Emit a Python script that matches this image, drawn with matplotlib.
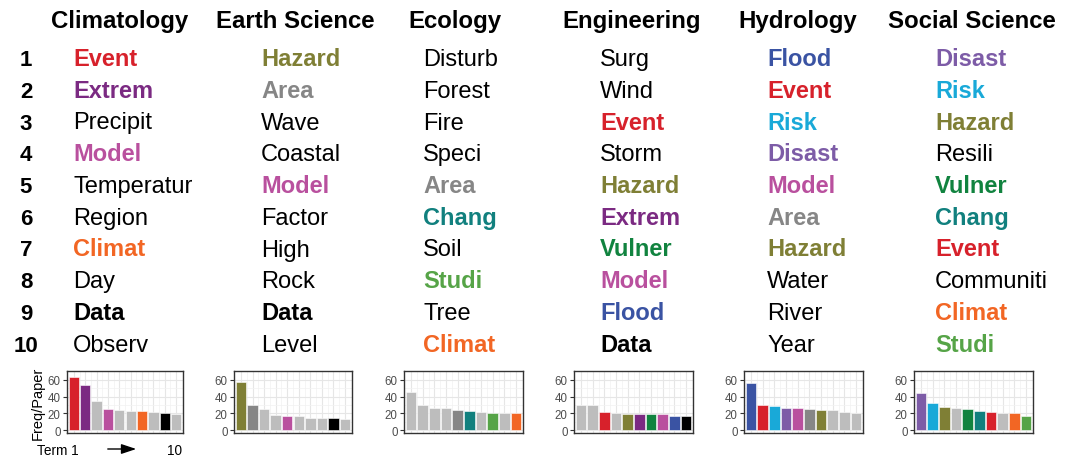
import matplotlib
matplotlib.use("Agg")
import matplotlib.pyplot as plt
from matplotlib.ticker import MultipleLocator

plt.rcParams['font.family'] = ['Liberation Sans', 'DejaVu Sans']

W, H = 1070, 456

disciplines = ["Climatology", "Earth Science", "Ecology", "Engineering", "Hydrology", "Social Science"]

terms_climatology = ["Event", "Extrem", "Precipit", "Model", "Temperatur", "Region", "Climat", "Day", "Data", "Observ"]
terms_earth = ["Hazard", "Area", "Wave", "Coastal", "Model", "Factor", "High", "Rock", "Data", "Level"]
terms_ecology = ["Disturb", "Forest", "Fire", "Speci", "Area", "Chang", "Soil", "Studi", "Tree", "Climat"]
terms_engineering = ["Surg", "Wind", "Event", "Storm", "Hazard", "Extrem", "Vulner", "Model", "Flood", "Data"]
terms_hydrology = ["Flood", "Event", "Risk", "Disast", "Model", "Area", "Hazard", "Water", "River", "Year"]
terms_social = ["Disast", "Risk", "Hazard", "Resili", "Vulner", "Chang", "Event", "Communiti", "Climat", "Studi"]

freq_climatology = [63, 54, 35, 25, 24, 23, 23, 22, 20, 19]
freq_earth = [57, 30, 25, 18, 17, 17, 15, 14, 14, 13]
freq_ecology = [46, 30, 26, 26, 24, 23, 22, 21, 20, 20]
freq_engineering = [30, 30, 22, 21, 19, 19, 19, 19, 17, 17]
freq_hydrology = [56, 30, 29, 27, 27, 25, 24, 24, 22, 21]
freq_social = [44, 32, 28, 27, 25, 23, 22, 21, 20, 17]

term_colors = {
    "Event": "#D7212B", "Extrem": "#7B2A82", "Model": "#B9509E", "Climat": "#F26624",
    "Hazard": "#7F7F35", "Area": "#868686", "Chang": "#11807E", "Studi": "#56A447",
    "Vulner": "#11833F", "Flood": "#3A53A3", "Risk": "#19A9D8", "Disast": "#7D5CA7",
    "Data": "#000000",
}
other_color = "#BDBDBD"

all_terms = [terms_climatology, terms_earth, terms_ecology, terms_engineering, terms_hydrology, terms_social]
all_freqs = [freq_climatology, freq_earth, freq_ecology, freq_engineering, freq_hydrology, freq_social]

fig = plt.figure(figsize=(W / 100, H / 100), dpi=100)

def fx(x):
    return x / W

def fy(y):
    return 1 - y / H

header_cx = [120, 295, 455, 632, 798, 972]
term_x = [73, 261, 423, 600, 767, 935]
base0, dy = 66, 31.75

for cx, name in zip(header_cx, disciplines):
    fig.text(fx(cx), fy(28), name, ha="center", va="baseline", fontsize=17.3, fontweight="bold")

for i in range(10):
    fig.text(fx(26), fy(base0 + i * dy), str(i + 1), ha="center", va="baseline", fontsize=16, fontweight="bold")

for tx, terms in zip(term_x, all_terms):
    for i, t in enumerate(terms):
        if t in term_colors:
            fig.text(fx(tx), fy(base0 + i * dy), t, ha="left", va="baseline", fontsize=17,
                     fontweight="bold", color=term_colors[t])
        else:
            fig.text(fx(tx), fy(base0 + i * dy), t, ha="left", va="baseline", fontsize=17, color="black")

panel_lr = [(67, 183), (234, 352), (404, 523), (574, 693), (744, 863), (914, 1033)]
ptop, pbot = 372, 434

for k, ((l, r), terms, freqs) in enumerate(zip(panel_lr, all_terms, all_freqs)):
    ax = fig.add_axes([fx(l), fy(pbot), (r - l) / W, (pbot - ptop) / H])
    xs = list(range(1, 11))
    cols = [term_colors.get(t, other_color) for t in terms]
    ax.bar(xs, freqs, width=0.9, color=cols, edgecolor="white", linewidth=0.4, zorder=3)
    ax.set_xlim(0.4, 10.6)
    ax.set_ylim(-3.3, 70.5)
    ax.yaxis.set_major_locator(MultipleLocator(20))
    ax.yaxis.set_minor_locator(MultipleLocator(10))
    ax.set_xticks(xs)
    ax.set_xticks([x + 0.5 for x in xs[:-1]], minor=True)
    ax.grid(True, which="major", color="#E6E6E6", linewidth=0.8, zorder=0)
    ax.grid(True, which="minor", color="#F2F2F2", linewidth=0.5, zorder=0)
    ax.tick_params(axis="x", which="both", length=0, labelbottom=False)
    ax.tick_params(axis="y", which="major", length=3, width=0.8, color="#333333",
                   labelsize=8.3, labelcolor="#4D4D4D", pad=1.5)
    ax.tick_params(axis="y", which="minor", length=0)
    for sp in ax.spines.values():
        sp.set_color("#333333")
        sp.set_linewidth(1.0)
    ax.set_axisbelow(True)
    if k == 0:
        ax.set_ylabel("Freq/Paper", fontsize=10.5, labelpad=2)

fig.text(fx(37), fy(455), "Term 1", ha="left", va="baseline", fontsize=9.8)
fig.text(fx(182), fy(455), "10", ha="right", va="baseline", fontsize=9.8)
fig.patches.append(matplotlib.patches.FancyArrowPatch(
    (fx(105), fy(450)), (fx(139), fy(450)), transform=fig.transFigure,
    arrowstyle="-|>,head_length=9,head_width=3", color="black", linewidth=1.0,
    mutation_scale=1))

fig.savefig("out.png", dpi=100)
